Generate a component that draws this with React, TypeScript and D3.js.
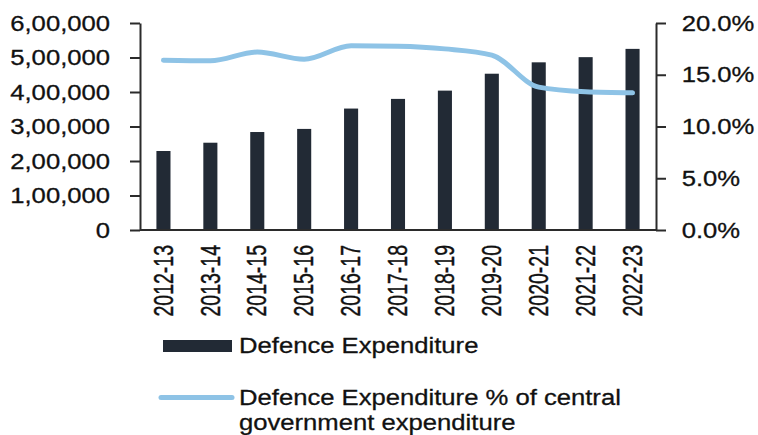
import { useRef, useEffect } from 'react';
import * as d3 from 'd3';

const years = ['2012-13', '2013-14', '2014-15', '2015-16', '2016-17', '2017-18',
  '2018-19', '2019-20', '2020-21', '2021-22', '2022-23'];
// Defence expenditure (Rs crore)
const spend = [229000, 253000, 284000, 293000, 352000, 380000, 404000, 453000, 486000, 501000, 525000];
// share of central government expenditure (%)
const share = [16.4, 16.35, 17.2, 16.5, 17.8, 17.75, 17.5, 16.9, 13.8, 13.35, 13.25];
const leftTicks = [0, 100000, 200000, 300000, 400000, 500000, 600000];
const rightTicks = [0, 5, 10, 15, 20];

const FONT = '"Liberation Sans", Arial, sans-serif';
const K = 1.14; // the source picture is a bit wider than tall

// Indian digit grouping: 6,00,000
const lakh = (n: number) => {
  const s = String(n);
  if (s.length <= 3) return s;
  const head = s.slice(0, -3).replace(/\B(?=(\d{2})+(?!\d))/g, ',');
  return head + ',' + s.slice(-3);
};

export default function App() {
  const ref = useRef<SVGSVGElement>(null);

  useEffect(() => {
    const w = 758, h = 435;
    const left = 140, right = 656, top = 23, bottom = 230;

    const svg = d3.select(ref.current)
      .attr('width', w)
      .attr('height', h)
      .style('font-family', FONT);
    svg.selectAll('*').remove();

    const x = d3.scaleBand().domain(years).range([left, right]).padding(0);
    const y = d3.scaleLinear().domain([0, 600000]).range([bottom, top]);
    const y2 = d3.scaleLinear().domain([0, 20]).range([bottom, top]);
    const bw = x.bandwidth() * 0.3;
    const cx = (d: string) => x(d)! + x.bandwidth() / 2;

    /* bars */
    svg.append('g')
      .selectAll('rect')
      .data(years)
      .join('rect')
        .attr('x', d => cx(d) - bw / 2)
        .attr('y', (d, i) => y(spend[i]))
        .attr('width', bw)
        .attr('height', (d, i) => bottom - y(spend[i]))
        .attr('fill', '#222a35');

    /* axes */
    const styleAxis = (g: any, tx: number, anchor: string) => {
      g.select('.domain').attr('stroke', '#2b2b2b').attr('stroke-width', 2);
      g.selectAll('.tick line').attr('stroke', '#2b2b2b').attr('stroke-width', 2);
      g.selectAll('.tick text')
        .attr('x', tx)
        .attr('text-anchor', anchor)
        .attr('transform', `scale(${K},1)`)
        .attr('fill', '#111')
        .attr('stroke', '#111')
        .attr('stroke-width', 0.3)
        .style('font-size', '22.5px')
        .style('font-family', FONT);
    };

    svg.append('g')
      .attr('transform', `translate(${left},0)`)
      .call(d3.axisLeft(y).tickValues(leftTicks).tickFormat(d => lakh(+d)).tickSize(10).tickSizeOuter(0))
      .call(g => styleAxis(g, -26.3, 'end'));

    svg.append('g')
      .attr('transform', `translate(${right},0)`)
      .call(d3.axisRight(y2).tickValues(rightTicks).tickFormat(d => (+d).toFixed(1) + '%').tickSize(10).tickSizeOuter(0))
      .call(g => styleAxis(g, 22.5, 'start'));

    svg.append('line')
      .attr('x1', left).attr('x2', right)
      .attr('y1', bottom).attr('y2', bottom)
      .attr('stroke', '#2b2b2b').attr('stroke-width', 2);

    /* x labels */
    svg.append('g')
      .selectAll('text')
      .data(years)
      .join('text')
        .attr('transform', d => `translate(${cx(d) - 1},245) rotate(-90) scale(1,1.45)`)
        .attr('text-anchor', 'end')
        .attr('dy', '0.36em')
        .attr('fill', '#111')
        .attr('stroke', '#111')
        .attr('stroke-width', 0.3)
        .style('font-size', '19.5px')
        .text(d => d);

    /* share line */
    const line = d3.line<number>()
      .x((d, i) => cx(years[i]))
      .y(d => y2(d))
      .curve(d3.curveMonotoneX);

    svg.append('path')
      .datum(share)
      .attr('fill', 'none')
      .attr('stroke', '#8ec3e6')
      .attr('stroke-width', 5)
      .attr('stroke-linecap', 'round')
      .attr('stroke-linejoin', 'round')
      .attr('d', line);

    /* legend */
    const lg = svg.append('g');
    lg.append('rect')
      .attr('x', 163).attr('y', 340)
      .attr('width', 69).attr('height', 12)
      .attr('fill', '#222a35');
    lg.append('line')
      .attr('x1', 161).attr('x2', 232)
      .attr('y1', 397.5).attr('y2', 397.5)
      .attr('stroke', '#8ec3e6').attr('stroke-width', 5)
      .attr('stroke-linecap', 'round');

    const labels = [
      { t: 'Defence Expenditure', y: 353 },
      { t: 'Defence Expenditure % of central', y: 405 },
      { t: 'government expenditure', y: 430 }
    ];
    lg.selectAll('text')
      .data(labels)
      .join('text')
        .attr('transform', d => `translate(239,${d.y}) scale(${K},1)`)
        .attr('fill', '#111')
        .attr('stroke', '#111')
        .attr('stroke-width', 0.3)
        .style('font-size', '22.5px')
        .text(d => d.t);
  }, []);

  return <svg ref={ref} style={{ position: 'absolute', left: 0, top: 0 }}></svg>;
}
